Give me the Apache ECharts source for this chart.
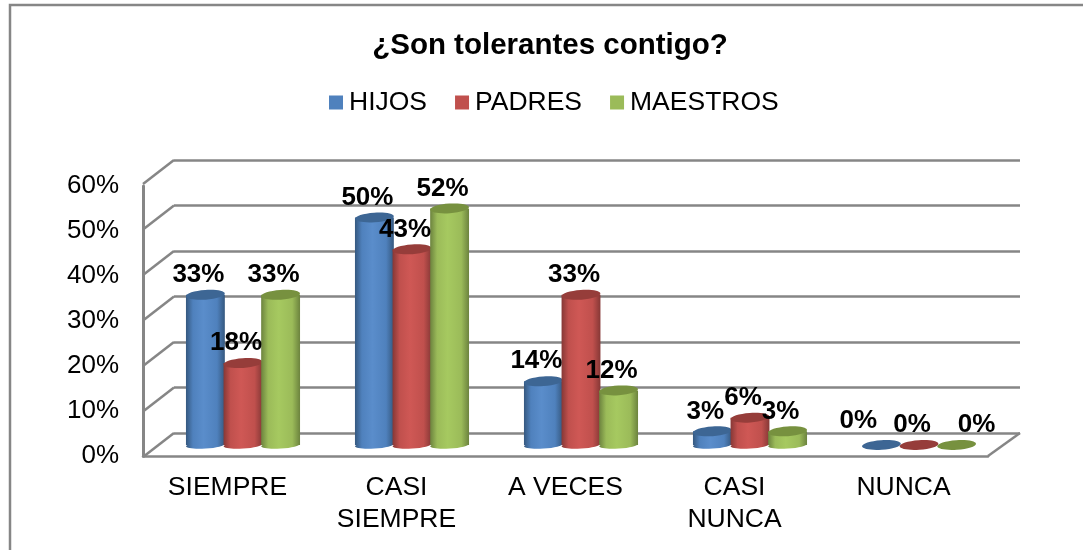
<!DOCTYPE html>
<html>
<head>
<meta charset="utf-8">
<style>
  html, body { margin: 0; padding: 0; background: #fff; }
  #chart { width: 1083px; height: 550px; }
</style>
<script src="https://cdn.jsdelivr.net/npm/echarts@6/dist/echarts.min.js"></script>
</head>
<body>
<div id="chart"></div>
<script>
const categories = ['SIEMPRE', 'CASI\nSIEMPRE', 'A VECES', 'CASI\nNUNCA', 'NUNCA'];
const hijos = [33, 50, 14, 3, 0];
const padres = [18, 43, 33, 6, 0];
const maestros = [33, 52, 12, 3, 0];
const yTicks = [0, 10, 20, 30, 40, 50, 60];

const FONT = '"Liberation Sans", Arial, sans-serif';
const GREY = '#868686';

const looks = [
  { name: 'HIJOS', data: hijos, color: '#4f81bd', edge: '#35587f', lite: '#5a8dcb', top: '#3d6694' },
  { name: 'PADRES', data: padres, color: '#c0504d', edge: '#863836', lite: '#cf5855', top: '#963d3a' },
  { name: 'MAESTROS', data: maestros, color: '#9bbb59', edge: '#6c833e', lite: '#a6c960', top: '#77913f' }
];

// a few labels sit away from their bar in the original: [series, category] -> [dx, dy]
const labelNudge = { '0,4': [-16, -4], '2,4': [27, 0] };

const chart = echarts.init(document.getElementById('chart'));

// cylinder: body with a sideways gradient, rounded bottom, darker tilted top
function cylinder(look, idx) {
  return function (params, api) {
    const cat = api.value(0);
    const base = api.coord([cat, 0]);
    const top = api.coord([cat, api.value(1)]);
    const band = api.size([1, 0])[0];
    const cx = base[0] + (idx - 1) * band * 0.2225;
    const rx = band * 0.115;
    const fill = new echarts.graphic.LinearGradient(0, 0, 1, 0, [
      { offset: 0, color: look.edge },
      { offset: 0.18, color: look.color },
      { offset: 0.45, color: look.lite },
      { offset: 0.8, color: look.color },
      { offset: 1, color: look.edge }
    ]);
    const kids = [];
    if (api.value(1) > 0) {
      kids.push({
        type: 'ellipse',
        shape: { cx: cx, cy: base[1], rx: rx, ry: 3.6 },
        rotation: 0.07, originX: cx, originY: base[1],
        style: { fill: fill }
      });
      kids.push({
        type: 'rect',
        shape: { x: cx - rx, y: top[1], width: rx * 2, height: base[1] - top[1] },
        style: { fill: fill }
      });
    }
    kids.push({
      type: 'ellipse',
      shape: { cx: cx, cy: top[1], rx: rx, ry: 4.8 },
      rotation: 0.07, originX: cx, originY: top[1],
      style: { fill: look.top }
    });
    return { type: 'group', children: kids };
  };
}

function barLabel(idx) {
  return function (params, api) {
    const cat = api.value(0);
    const top = api.coord([cat, api.value(1)]);
    const band = api.size([1, 0])[0];
    const nudge = labelNudge[idx + ',' + cat] || [0, 0];
    return {
      type: 'text',
      x: top[0] + (idx - 1) * band * 0.2225 - 7 + nudge[0],
      y: top[1] - 20 + nudge[1],
      style: {
        text: api.value(1) + '%',
        fill: '#000',
        font: 'bold 26px ' + FONT,
        align: 'center',
        verticalAlign: 'middle'
      }
    };
  };
}

// side wall and floor edges, hung off the back wall's ticks
function wallEdges(params, api) {
  const v = api.value(0);
  const p = api.coord([0, v]);
  const stroke = { stroke: GREY, lineWidth: 2.5, fill: null };
  const kids = [{
    type: 'line',
    shape: { x1: p[0], y1: p[1], x2: p[0] - 31, y2: p[1] + 24 },
    style: stroke
  }];
  if (v === 0) {
    const end = api.coord([1, 0]);
    kids.push({
      type: 'line',
      shape: { x1: end[0], y1: p[1], x2: end[0] - 32, y2: p[1] + 23 },
      style: stroke
    });
  }
  return { type: 'group', children: kids };
}

const series = [{
  type: 'custom',
  name: 'paredes',
  xAxisIndex: 0,
  yAxisIndex: 0,
  z: 1,
  silent: true,
  renderItem: wallEdges,
  data: yTicks.map(v => [v]),
  encode: { y: 0 }
}];

looks.forEach(function (look, idx) {
  const rows = look.data.map((v, i) => [i, v]);
  series.push({
    type: 'custom',
    name: look.name,
    xAxisIndex: 1,
    yAxisIndex: 1,
    z: 3,
    itemStyle: { color: look.color },
    renderItem: cylinder(look, idx),
    encode: { x: 0, y: 1 },
    data: rows
  });
  series.push({
    type: 'custom',
    name: look.name,
    xAxisIndex: 1,
    yAxisIndex: 1,
    z: 5,
    silent: true,
    itemStyle: { color: look.color },
    renderItem: barLabel(idx),
    encode: { x: 0, y: 1 },
    data: rows
  });
});

chart.setOption({
  animation: false,
  backgroundColor: '#fff',
  title: {
    text: '¿Son tolerantes contigo?',
    left: 545,
    top: 26,
    textAlign: 'center',
    textStyle: { fontFamily: FONT, fontWeight: 'bold', fontSize: 29.5, color: '#000' }
  },
  legend: {
    data: looks.map(l => l.name),
    left: 324,
    top: 84,
    icon: 'rect',
    itemWidth: 14,
    itemHeight: 14,
    itemGap: 28,
    textStyle: { fontFamily: FONT, fontSize: 26.5, color: '#000', padding: [0, 0, 0, 1] }
  },
  graphic: [{
    type: 'polyline',
    shape: { points: [[10, 550], [10, 5], [1083, 5]] },
    style: { stroke: GREY, lineWidth: 2.5, fill: null },
    silent: true
  }],
  grid: [
    // back wall
    { left: 174, top: 160, width: 846, height: 273 },
    // plane the cylinders stand on
    { left: 158.5, top: 172, width: 845, height: 273 },
    // front edge carrying the axis labels
    { left: 143, top: 186, width: 845, height: 270 }
  ],
  xAxis: [
    { gridIndex: 0, type: 'value', min: 0, max: 1, show: false },
    { gridIndex: 1, type: 'category', data: categories, show: false },
    {
      gridIndex: 2,
      type: 'category',
      data: categories,
      axisLine: { lineStyle: { color: GREY, width: 2.5 } },
      axisTick: { show: false },
      axisLabel: {
        interval: 0,
        margin: 16,
        lineHeight: 32,
        fontFamily: FONT,
        fontSize: 26.5,
        color: '#000'
      }
    }
  ],
  yAxis: [
    {
      gridIndex: 0,
      type: 'value',
      min: 0,
      max: 60,
      interval: 10,
      axisLine: { show: false },
      axisTick: { show: false },
      axisLabel: { show: false },
      splitLine: { lineStyle: { color: GREY, width: 2.5 } }
    },
    { gridIndex: 1, type: 'value', min: 0, max: 60, interval: 10, show: false },
    {
      gridIndex: 2,
      type: 'value',
      min: 0,
      max: 60,
      interval: 10,
      axisLine: { show: true, lineStyle: { color: GREY, width: 3 } },
      axisTick: { show: false },
      splitLine: { show: false },
      axisLabel: {
        margin: 24,
        padding: [2, 0, 0, 0],
        fontFamily: FONT,
        fontSize: 26,
        color: '#000',
        formatter: '{value}%'
      }
    }
  ],
  series: series
});
</script>
</body>
</html>
